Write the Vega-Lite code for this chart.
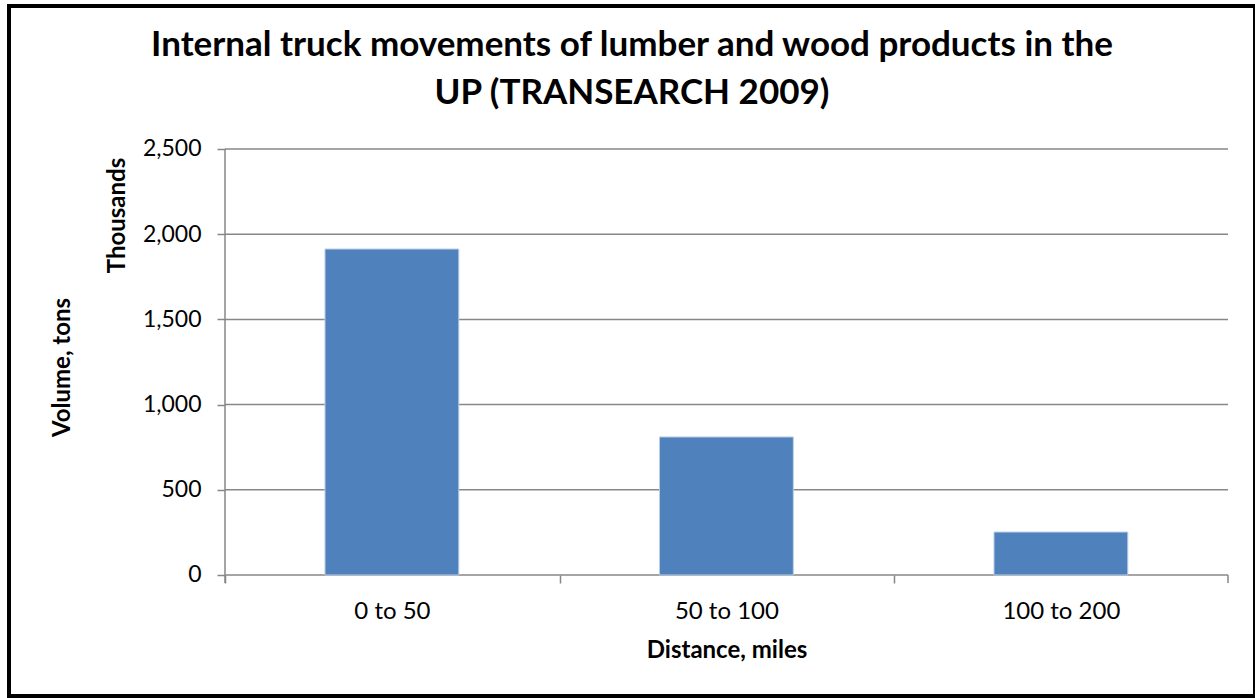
{
  "$schema": "https://vega.github.io/schema/vega-lite/v6.json",
  "width": 1246,
  "height": 690,
  "autosize": {"type": "none"},
  "padding": {"left": 9, "top": 6, "right": 0, "bottom": 2},
  "background": "white",
  "config": {"view": {"stroke": "black", "strokeWidth": 4}, "font": "Lato"},
  "title": {
    "text": ["Internal truck movements of lumber and wood products in the", "UP (TRANSEARCH 2009)"],
    "font": "Lato",
    "fontSize": 35,
    "fontWeight": "bold",
    "color": "black",
    "anchor": "middle",
    "baseline": "alphabetic",
    "offset": -133,
    "lineHeight": 48
  },
  "datasets": {
    "bars": [
      {"distance": "0 to 50", "volume": 1913},
      {"distance": "50 to 100", "volume": 810},
      {"distance": "100 to 200", "volume": 252}
    ],
    "grid": [
      {"value": 0}, {"value": 500}, {"value": 1000}, {"value": 1500}, {"value": 2000}, {"value": 2500}
    ],
    "frame": [{"lo": -46.9, "hi": 2500}],
    "endtick": [{"lo": -46.9, "hi": 0}]
  },
  "resolve": {"axis": {"y": "independent"}},
  "layer": [
    {
      "data": {"name": "grid"},
      "mark": {"type": "rule", "color": "#878787", "strokeWidth": 1.5},
      "encoding": {
        "y": {
          "field": "value", "type": "quantitative",
          "scale": {"domain": [-710.1, 3339.2], "nice": false, "zero": false},
          "axis": {
            "orient": "right", "labels": false, "ticks": false, "domain": false, "grid": false,
            "title": "Thousands", "titleFont": "Lato", "titleFontSize": 24, "titleFontWeight": "bold",
            "titleColor": "black", "titleAngle": -90, "titleBaseline": "middle", "titleAlign": "center",
            "titleX": -1138, "titleY": 209
          }
        },
        "x": {"datum": "0 to 50", "type": "nominal", "bandPosition": -0.7474},
        "x2": {"datum": "100 to 200", "bandPosition": 1.749}
      }
    },
    {
      "data": {"name": "frame"},
      "mark": {"type": "rule", "color": "#878787", "strokeWidth": 1.5},
      "encoding": {
        "y": {"field": "lo", "type": "quantitative", "scale": {"domain": [-710.1, 3339.2], "nice": false, "zero": false}, "axis": null},
        "y2": {"field": "hi"},
        "x": {"datum": "0 to 50", "type": "nominal", "bandPosition": -0.7474}
      }
    },
    {
      "data": {"name": "endtick"},
      "mark": {"type": "rule", "color": "#878787", "strokeWidth": 1.5},
      "encoding": {
        "y": {"field": "lo", "type": "quantitative", "scale": {"domain": [-710.1, 3339.2], "nice": false, "zero": false}, "axis": null},
        "y2": {"field": "hi"},
        "x": {"datum": "100 to 200", "type": "nominal", "bandPosition": 1.749}
      }
    },
    {
      "data": {"name": "bars"},
      "mark": {"type": "bar", "color": "#4f81bd", "stroke": "#b9cde5", "strokeWidth": 1},
      "encoding": {
        "x": {
          "field": "distance", "type": "nominal",
          "scale": {"domain": ["0 to 50", "50 to 100", "100 to 200"], "paddingInner": 0.6, "paddingOuter": 0.6625, "align": 0.713},
          "axis": {
            "orient": "bottom", "offset": -121, "domain": false, "grid": false,
            "bandPosition": 0, "tickOffset": -100, "labelOffset": 100,
            "ticks": true, "tickSize": 8, "tickColor": "#878787", "tickWidth": 1.5,
            "labelFont": "Lato", "labelFontSize": 24, "labelColor": "black", "labelAngle": 0,
            "labelAlign": "center", "labelBaseline": "alphabetic", "labelPadding": 35,
            "title": "Distance, miles", "titleFont": "Lato", "titleFontSize": 24, "titleFontWeight": "bold",
            "titleColor": "black", "titleX": 717.5, "titleY": 82, "titleBaseline": "alphabetic", "titleAlign": "center"
          }
        },
        "y": {
          "field": "volume", "type": "quantitative",
          "scale": {"domain": [-710.1, 3339.2], "nice": false, "zero": false},
          "axis": {
            "orient": "left", "offset": -216, "values": [0, 500, 1000, 1500, 2000, 2500], "format": ",.0f",
            "domain": false, "grid": false, "ticks": true, "tickSize": 8, "tickColor": "#878787", "tickWidth": 1.5,
            "labelFont": "Lato", "labelFontSize": 23, "labelColor": "black", "labelPadding": 16,
            "title": "Volume, tons", "titleFont": "Lato", "titleFontSize": 24, "titleFontWeight": "bold",
            "titleColor": "black", "titleAngle": -90, "titleBaseline": "middle", "titleAlign": "center",
            "titleX": -163, "titleY": 361
          }
        }
      }
    }
  ]
}
